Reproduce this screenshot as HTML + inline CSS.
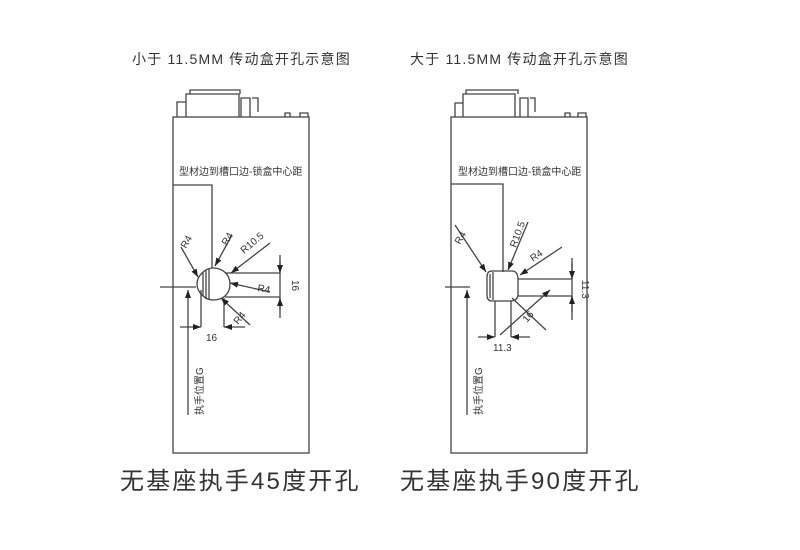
<!DOCTYPE html>
<html><head><meta charset="utf-8"><style>
html,body{margin:0;padding:0;background:#fff;}
svg{display:block;}
text{font-family:"Liberation Sans","Noto Sans CJK SC",sans-serif;fill:#333;}
</style></head><body>
<svg width="800" height="550" viewBox="0 0 800 550" xmlns="http://www.w3.org/2000/svg">
<defs>
<marker id="a" markerWidth="8" markerHeight="6" refX="8" refY="3" orient="auto" markerUnits="userSpaceOnUse"><path d="M0,0 L8,3 L0,6z" fill="#222"/></marker>
</defs>
<text x="132" y="64" font-size="14" letter-spacing="1.2">小于 11.5MM 传动盒开孔示意图</text>
<text x="410" y="64" font-size="14" letter-spacing="1.2">大于 11.5MM 传动盒开孔示意图</text>

<g stroke="#444" fill="none" stroke-width="1.3">
<!-- LEFT PANEL -->
<rect x="173" y="117" width="136" height="336"/>
<path d="M177,117 V102 H186 V117 M186,102 V94 H239 V117 M190,94 V90 H240 V94 M241,117 V98 H250 V117 M252,98 H258 V112 M285,117 V113 H290 V117 M300,117 V113 H308 V117"/>
<path d="M173,185 H212 V268"/>
<path d="M160,287 H196"/>
<path d="M188,415 V290" marker-end="url(#a)"/>
<path d="M213,268 C222,268 230,274 230,284 C230,295 222,300 213,300 C205,300 197,292 197,284 C197,276 205,268 213,268z"/>
<path d="M203,272 V296 M206,270 V299 M209,269 V300"/>
<path d="M201,290 V327 M224,298 V327 M225,273 H280 M225,297 H280"/>
<path d="M280,255 V318"/>
<path d="M280,262 V273" marker-end="url(#a)"/>
<path d="M280,310 V298" marker-end="url(#a)"/>
<path d="M180,327 H201" marker-end="url(#a)"/>
<path d="M245,327 H224" marker-end="url(#a)"/>
<path d="M181,247 L198,277" marker-end="url(#a)"/>
<path d="M232,235 L215,266" marker-end="url(#a)"/>
<path d="M270,243 L231,273" marker-end="url(#a)"/>
<path d="M270,292 L230,283" marker-end="url(#a)"/>
<path d="M250,325 L221,298" marker-end="url(#a)"/>

<!-- RIGHT PANEL -->
<rect x="451" y="117" width="136" height="336"/>
<path d="M455,117 V103 H463 V117 M463,103 V94 H515 V117 M466,94 V90 H518 V94 M520,117 V98 H528 V117 M530,98 H535 V112 M565,117 V113 H570 V117 M578,117 V113 H586 V117"/>
<path d="M451,184 H503 V272"/>
<path d="M445,287 H470"/>
<path d="M467,415 V290" marker-end="url(#a)"/>
<path d="M492,271 H512 Q518,271 518,280 V294 Q518,301 510,301 H492 Q487,301 487,295 V277 Q487,271 492,271z"/>
<path d="M490,274 V298 M493,272 V300"/>
<path d="M495,301 V337 M511,301 V337 M518,279 H572 M518,296 H572"/>
<path d="M572,258 V320"/>
<path d="M572,263 V279" marker-end="url(#a)"/>
<path d="M572,312 V296" marker-end="url(#a)"/>
<path d="M478,337 H495" marker-end="url(#a)"/>
<path d="M530,337 H511" marker-end="url(#a)"/>
<path d="M455,225 L486,272" marker-end="url(#a)"/>
<path d="M528,222 L508,270" marker-end="url(#a)"/>
<path d="M562,247 L520,275" marker-end="url(#a)"/>
<path d="M512,298 L546,330"/>
<path d="M500,335 L550,290" marker-end="url(#a)"/>
</g>

<g font-size="10">
<text x="179" y="175">型材边到槽口边-锁盒中心距</text>
<text x="458" y="175">型材边到槽口边-锁盒中心距</text>
<text x="206" y="341">16</text>
<text transform="translate(292,280) rotate(90)">16</text>
<text transform="translate(186,249) rotate(-60)">R4</text>
<text transform="translate(227,246) rotate(-60)">R4</text>
<text transform="translate(244,254) rotate(-40)">R10.5</text>
<text transform="translate(257,291) rotate(10)">R4</text>
<text transform="translate(238,325) rotate(-50)">R4</text>
<text transform="translate(203,415) rotate(-90)">执手位置G</text>
<text x="493" y="351">11.3</text>
<text transform="translate(582,280) rotate(90)">11.3</text>
<text transform="translate(460,245) rotate(-60)">R4</text>
<text transform="translate(516,248) rotate(-70)">R10.5</text>
<text transform="translate(533,262) rotate(-35)">R4</text>
<text transform="translate(527,323) rotate(-50)">16</text>
<text transform="translate(482,415) rotate(-90)">执手位置G</text>
</g>

<text x="120" y="489" font-size="24" letter-spacing="2.2">无基座执手45度开孔</text>
<text x="400" y="489" font-size="24" letter-spacing="2.2">无基座执手90度开孔</text>
</svg>
</body></html>
